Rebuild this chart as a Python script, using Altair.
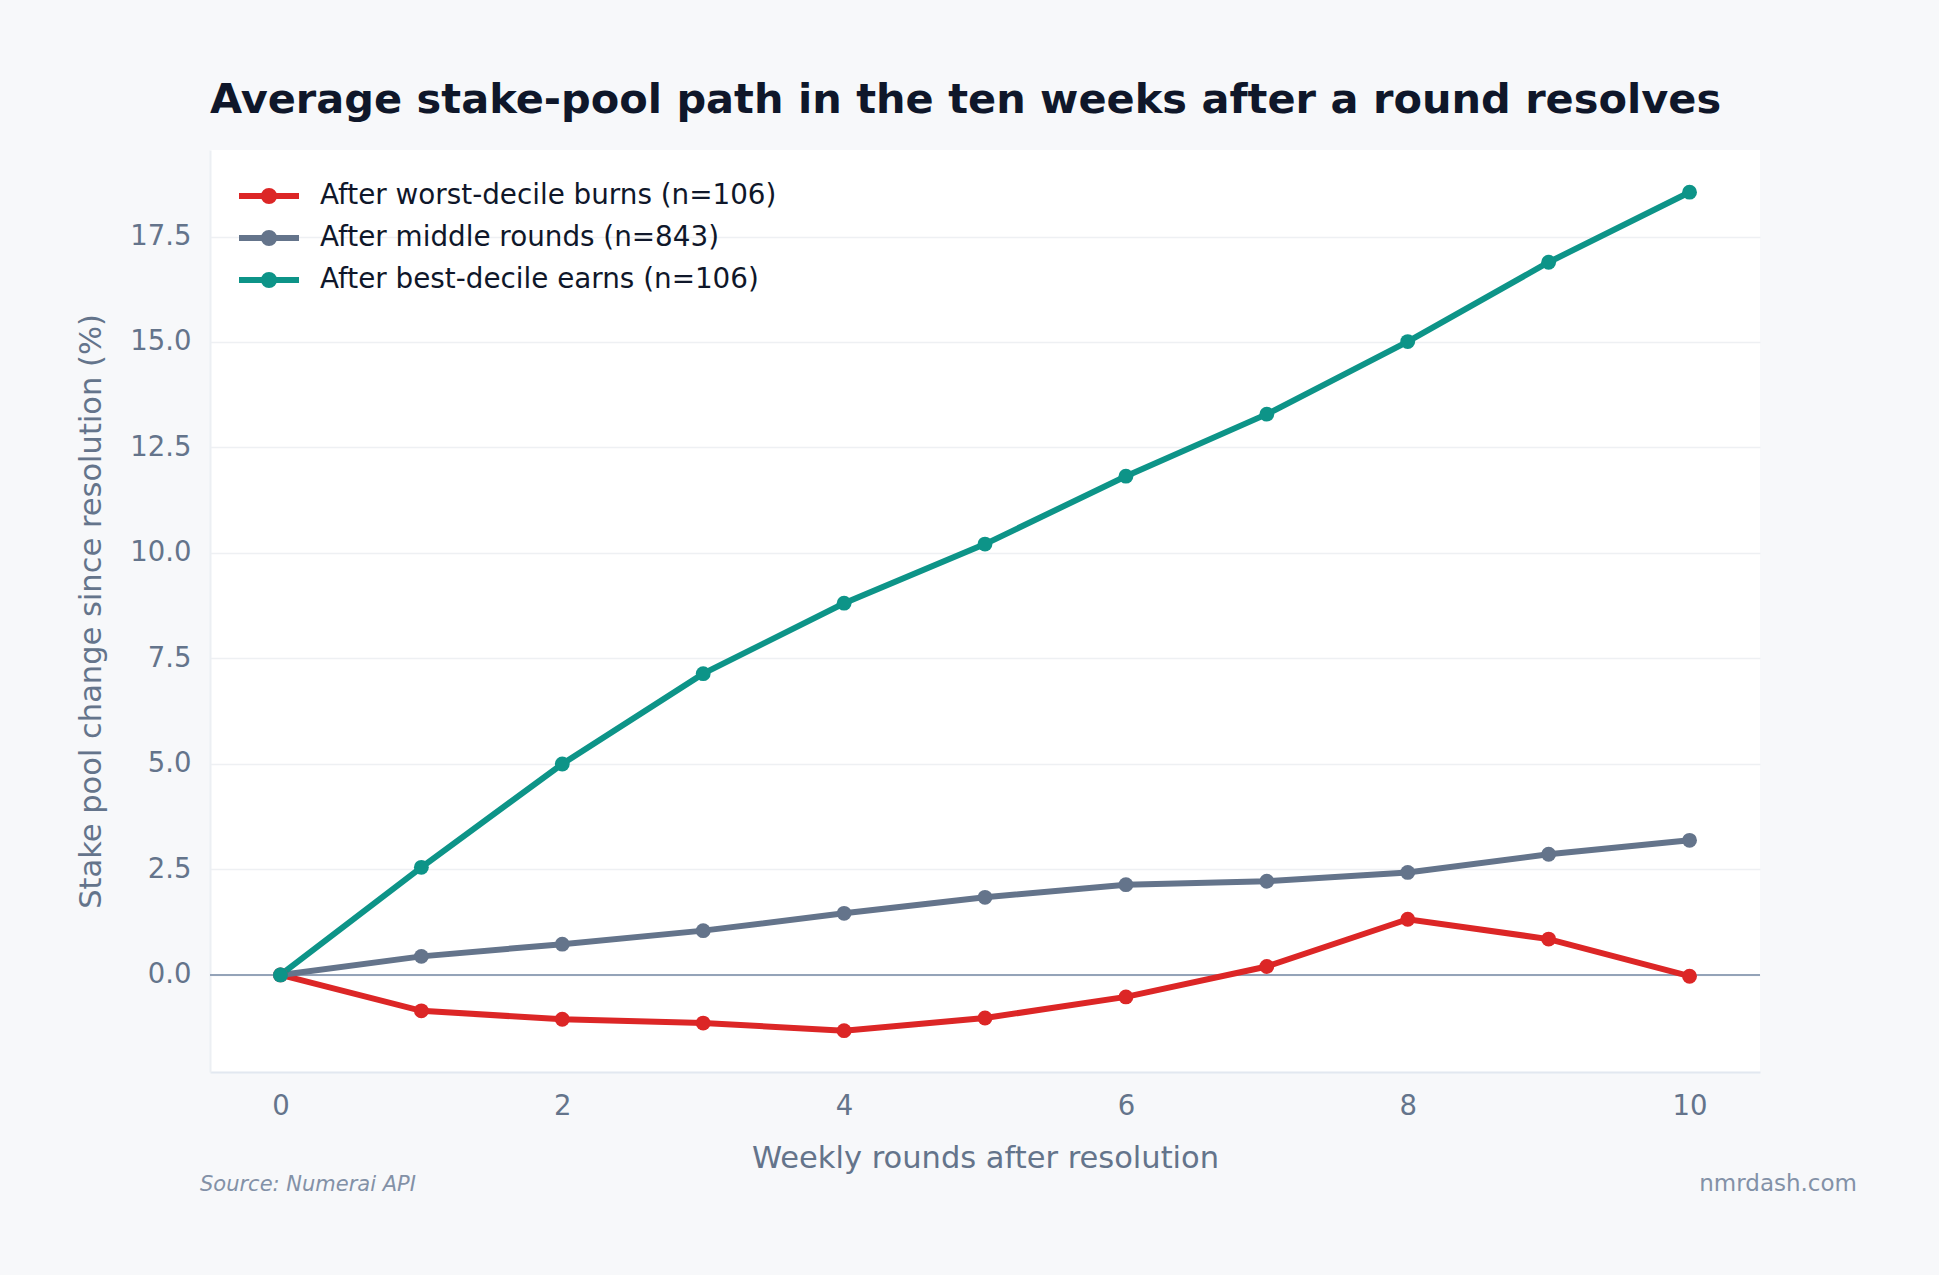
import altair as alt
import pandas as pd

weeks = [0, 1, 2, 3, 4, 5, 6, 7, 8, 9, 10]
series_names = [
    "After worst-decile burns (n=106)",
    "After middle rounds (n=843)",
    "After best-decile earns (n=106)",
]
series_colors = ["#dc2626", "#64748b", "#0d9488"]
worst_vals = [0.0, -0.85, -1.05, -1.14, -1.32, -1.02, -0.52, 0.2, 1.32, 0.85, -0.03]
middle_vals = [0.0, 0.44, 0.73, 1.05, 1.46, 1.84, 2.14, 2.22, 2.43, 2.86, 3.19]
best_vals = [0.0, 2.55, 5.0, 7.14, 8.81, 10.21, 11.82, 13.29, 15.01, 16.89, 18.55]
y_ticks = [0, 2.5, 5, 7.5, 10, 12.5, 15, 17.5]
x_ticks = [0, 2, 4, 6, 8, 10]

rows = []
for name, vals in zip(series_names, [worst_vals, middle_vals, best_vals]):
    for w, v in zip(weeks, vals):
        rows.append({"week": w, "series": name, "value": v})
df = pd.DataFrame(rows)

FONT = "DejaVu Sans"
sym_path = "M-1,0L1,0M-0.17,0A0.17,0.17,0,1,0,0.17,0A0.17,0.17,0,1,0,-0.17,0Z"


def make_legend():
    return alt.Legend(
        title=None,
        orient="none",
        legendX=26,
        legendY=31,
        symbolType=sym_path,
        symbolSize=3600,
        symbolStrokeWidth=6,
        symbolOpacity=1,
        labelFontSize=27.8,
        labelFont=FONT,
        labelColor="#0f172a",
        labelOffset=18,
        clipHeight=30,
        rowPadding=12,
        padding=0,
        labelLimit=700,
    )


scale = alt.Scale(domain=series_names, range=series_colors)

x = alt.X(
    "week:Q",
    scale=alt.Scale(domain=[-0.5, 10.5], nice=False, zero=False),
    axis=alt.Axis(
        values=x_ticks, title="Weekly rounds after resolution", grid=False,
        ticks=False, tickSize=0, labelPadding=20, titlePadding=24,
        domainColor="#e2e8f0", domainWidth=2,
    ),
)
y = alt.Y(
    "value:Q",
    scale=alt.Scale(domain=[-2.3, 19.55], nice=False, zero=False),
    axis=alt.Axis(
        values=y_ticks, format=".1f", title="Stake pool change since resolution (%)",
        grid=True, ticks=False, tickSize=0, labelPadding=19, titlePadding=23,
        domainColor="#eceff3", domainWidth=2,
    ),
)

lines = alt.Chart(df).mark_line(strokeWidth=6).encode(
    x=x, y=y,
    stroke=alt.Stroke("series:N", scale=scale, legend=make_legend()),
    detail="series:N",
    order="week:Q",
)
points = alt.Chart(df).mark_point(filled=True, size=220, opacity=1).encode(
    x=x, y=y,
    fill=alt.Fill("series:N", scale=scale, legend=make_legend()),
)

zero = alt.Chart(pd.DataFrame({"z": [0]})).mark_rule(color="#94a3b8", strokeWidth=2).encode(
    y=alt.datum(0)
)

src_df = pd.DataFrame({"t": ["Source: Numerai API"]})
source = alt.Chart(src_df).mark_text(
    align="left", baseline="alphabetic", fontSize=21, font=FONT, fontStyle="italic", color="#8391a7"
).encode(text="t:N", x=alt.value(-10), y=alt.value(1041))

site_df = pd.DataFrame({"t": ["nmrdash.com"]})
site = alt.Chart(site_df).mark_text(
    align="right", baseline="alphabetic", fontSize=23, font=FONT, color="#8391a7"
).encode(text="t:N", x=alt.value(1647), y=alt.value(1041))

chart = alt.layer(zero, lines, points, source, site).properties(
    width=1550,
    height=922,
    autosize=alt.AutoSizeParams(type="none"),
    padding={"left": 210, "top": 150, "right": 179, "bottom": 203},
    background="#f7f8fa",
    title=alt.Title(
        "Average stake-pool path in the ten weeks after a round resolves",
        anchor="start", frame="group", fontSize=41.5, font=FONT, fontWeight="bold",
        color="#0f172a", offset=28, dy=32, baseline="alphabetic",
    ),
).configure_view(
    fill="white", stroke=None
).configure_axis(
    labelFont=FONT, titleFont=FONT, labelFontSize=27.5, titleFontSize=30.5,
    labelColor="#64748b", titleColor="#64748b", titleFontWeight="normal",
    gridColor="#eef0f3", gridWidth=1.5,
)

chart.save("out.html", embed_options={"renderer": "svg", "actions": False})
